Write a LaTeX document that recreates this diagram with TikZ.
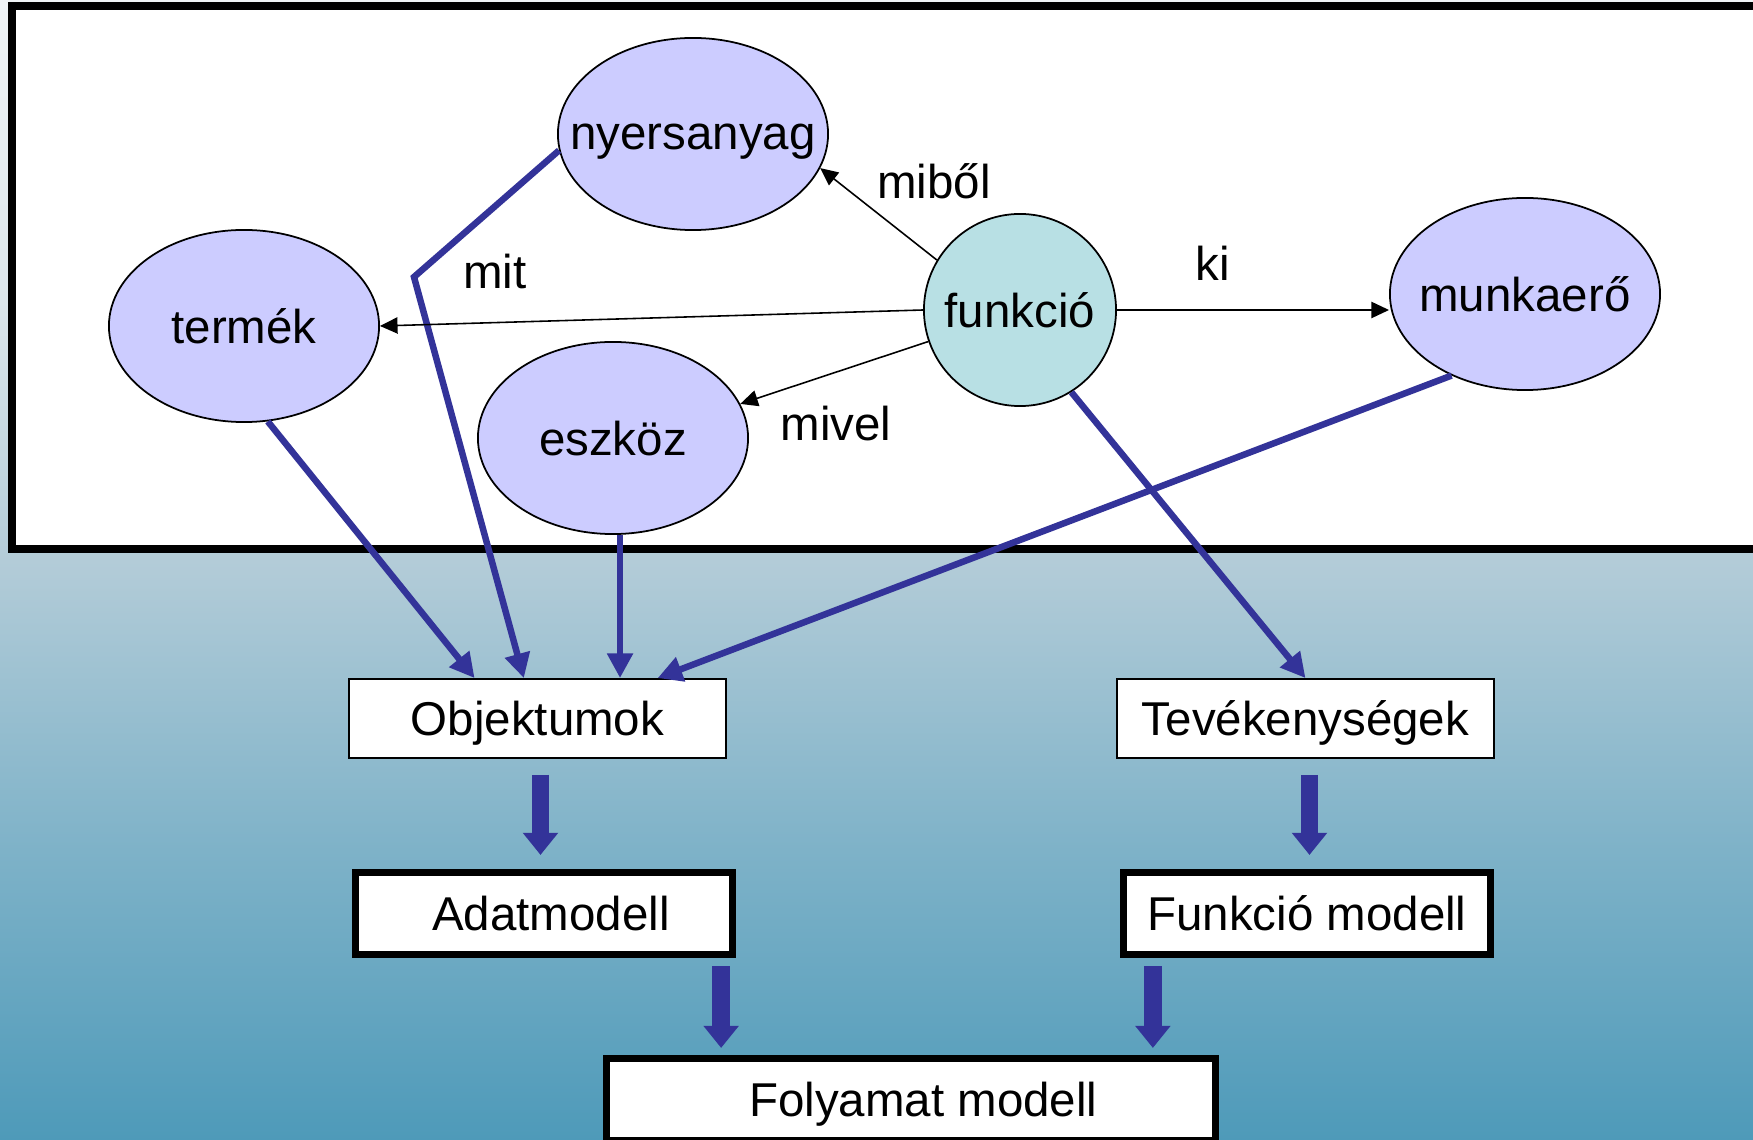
\documentclass[tikz,border=0pt]{standalone}
\usepackage{fontspec}
\setmainfont{Liberation Sans}
\usetikzlibrary{shapes.geometric,arrows.meta,calc}
\definecolor{ovalfill}{RGB}{204,204,255}
\definecolor{hubfill}{RGB}{184,224,228}
\definecolor{linkblue}{RGB}{51,51,153}
\definecolor{bgtop}{RGB}{240,244,246}
\definecolor{bgupper}{RGB}{220,230,235}
\definecolor{bgmid}{RGB}{179,204,216}
\definecolor{bglower}{RGB}{126,178,200}
\definecolor{bgbot}{RGB}{78,154,185}
% vertical fade of the slide background (25bp..75bp spans the filled area)
\pgfdeclareverticalshading{slidefade}{100bp}{%
  color(0bp)=(bgbot); color(25bp)=(bgbot); color(37.7bp)=(bglower);
  color(50.4bp)=(bgmid); color(61.8bp)=(bgupper); color(75bp)=(bgtop);
  color(100bp)=(bgtop)}
\begin{document}
\begin{tikzpicture}[x=0.01cm,y=-0.01cm,
  every node/.style={font=\fontsize{13.5pt}{16pt}\selectfont, text depth=0pt},
  oval/.style={ellipse, draw=black, line width=0.5pt, fill=ovalfill,
    minimum width=2.70cm, minimum height=1.92cm, inner sep=0pt},
  hub/.style={circle, draw=black, line width=0.5pt, fill=hubfill,
    minimum size=1.92cm, inner sep=0pt},
  plainbox/.style={draw=black, line width=0.5pt, fill=white,
    minimum width=3.77cm, minimum height=0.79cm, inner sep=0pt},
  modelbox/.style={draw=black, line width=2pt, fill=white,
    minimum height=0.82cm, inner sep=0pt},
  relarrow/.style={draw=black, line width=0.45pt, -{Triangle[length=5pt,width=4.6pt]}},
  flowline/.style={draw=linkblue, line width=1.85pt, -{Triangle[length=7pt,width=7pt]}},
  blockarrow/.style={draw=linkblue, line width=5.1pt, -{Triangle[length=6.3pt,width=9.7pt]}},
  ]
  % background and framed upper panel
  \useasboundingbox (0,0) rectangle (1753,1140);
  \shade[shading=slidefade] (0,0) rectangle (1753,1140);
  \draw[line width=2.2pt, fill=white] (12,6) rectangle (1780,549);

  % entities around the function
  \node[oval] (nyers) at (693,134) {\makebox[0pt]{\raisebox{-1.3pt}{nyersanyag}}};
  \node[oval] (termek) at (244,326) {\makebox[0pt]{termék}};
  \node[oval] (esz) at (613,438) {\makebox[0pt]{eszköz}};
  \node[hub] (funk) at (1020,310) {\makebox[0pt]{funkció}};
  \node[oval] (munka) at (1525,294) {\makebox[0pt]{munkaerő}};

  % relation labels
  \node (lmibol) at (934,181) {miből};
  \node (lmit) at (495,271) {mit};
  \node (lki) at (1213,263) {ki};
  \node (lmivel) at (836,423) {mivel};

  % lower boxes
  \node[plainbox] (obj) at (537.5,718.5) {Objektumok};
  \node[plainbox] (tev) at (1305.5,718.5) {Tevékenységek};
  \node[modelbox, minimum width=3.77cm] (adat) at (544,913.5) {\hspace{4pt}Adatmodell};
  \node[modelbox, minimum width=3.67cm] (fun) at (1307,913.5) {Funkció modell};
  \node[modelbox, minimum width=6.09cm] (fol) at (911,1099.5) {\hspace{7pt}Folyamat modell};

  % entities feeding the objects and activities
  \coordinate (bend) at (414,277);
  \draw[flowline] (nyers.187) -- (bend) -- ($(obj.north west)!0.464!(obj.north east)$);
  \draw[flowline] (termek.-76) -- ($(obj.north west)!0.334!(obj.north east)$);
  \coordinate (eszfoot) at ([xshift=2pt]esz.south);
  \draw[flowline] (eszfoot) -- (eszfoot |- obj.north);
  \draw[flowline] (munka.228) -- ($(obj.north west)!0.817!(obj.north east)$);
  \draw[flowline] (funk.-58) -- (tev.north);

  % relations of the function
  \draw[relarrow] (funk.149) -- (nyers.-15.5);
  \draw[relarrow] (funk.west) -- (termek.east);
  \draw[relarrow] (funk.199) -- (esz.15.5);
  \draw[relarrow] (funk.east) -- (funk.east -| munka.west);

  % model derivation
  \draw[blockarrow] ($(obj.south)+(3,16)$) -- ($(obj.south |- adat.north)+(3,-14)$);
  \draw[blockarrow] ($(tev.south)+(4,16)$) -- ($(tev.south |- fun.north)+(4,-14)$);
  \draw[blockarrow] ($(adat.south east)+(-15,8)$) -- ($(adat.south east |- fol.north)+(-15,-7)$);
  \draw[blockarrow] ($(fun.south west)+(33,8)$) -- ($(fun.south west |- fol.north)+(33,-7)$);
\end{tikzpicture}
\end{document}
